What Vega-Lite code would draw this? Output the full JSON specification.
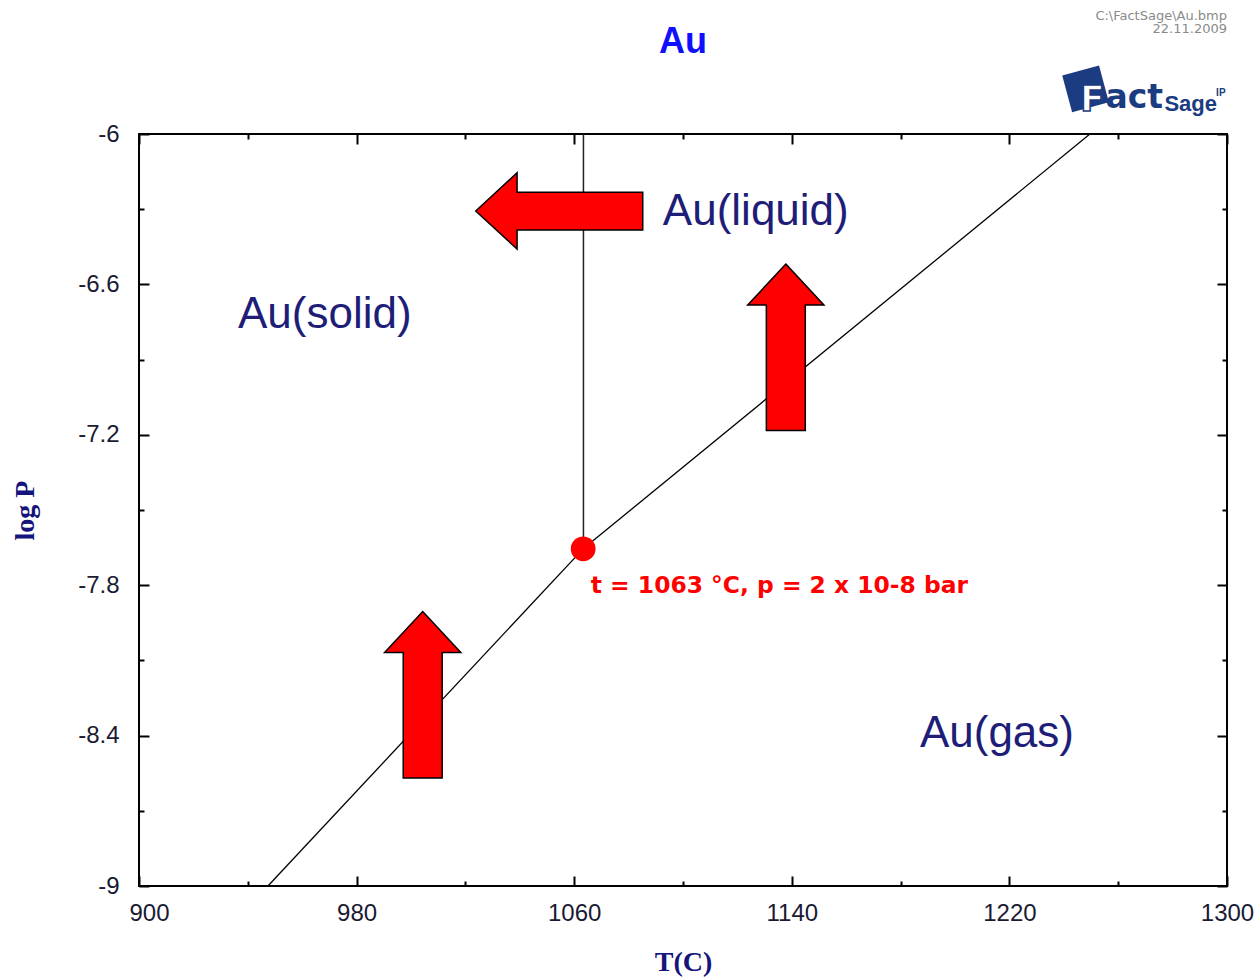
{
  "$schema": "https://vega.github.io/schema/vega-lite/v6.json",
  "width": 1088,
  "height": 752,
  "autosize": {"type": "none"},
  "padding": {"left": 139, "top": 134, "right": 33, "bottom": 94},
  "background": "#ffffff",
  "config": {
    "font": "Liberation Sans",
    "view": {"stroke": "#000000", "strokeWidth": 2}
  },
  "datasets": {
    "curve": [
      {"phase": "solid", "T": 947.4, "logP": -9.0},
      {"phase": "solid", "T": 1063.3, "logP": -7.655},
      {"phase": "liquid", "T": 1063.3, "logP": -7.655},
      {"phase": "liquid", "T": 1249.6, "logP": -6.0}
    ],
    "melt": [
      {"T": 1063.4, "logP": -7.655},
      {"T": 1063.4, "logP": -6.0}
    ],
    "arrows": [
      {"dir": "left", "T": 1054.5, "logP": -6.307},
      {"dir": "up", "T": 1137.8, "logP": -6.851},
      {"dir": "up", "T": 1004.3, "logP": -8.237}
    ],
    "triple": [
      {"T": 1063.3, "logP": -7.655}
    ],
    "phases": [
      {"text": "Au(liquid)", "T": 1092.6, "logP": -6.363},
      {"text": "Au(solid)", "T": 936.4, "logP": -6.774},
      {"text": "Au(gas)", "T": 1187.1, "logP": -8.445}
    ],
    "note": [
      {"text": "t = 1063 °C, p = 2 x 10-8 bar", "T": 1066.1, "logP": -7.831}
    ],
    "heading": [
      {"text": "Au", "T": 1100, "logP": -5.677}
    ],
    "fileinfo": [
      {"text": "C:\\FactSage\\Au.bmp", "T": 1300, "logP": -5.545},
      {"text": "22.11.2009", "T": 1300, "logP": -5.597}
    ],
    "logo": [
      {"part": "box", "text": "", "T": 1248.0, "logP": -5.820},
      {"part": "F", "text": "F", "T": 1246.0, "logP": -5.910},
      {"part": "act", "text": "act", "T": 1255.3, "logP": -5.898},
      {"part": "Sage", "text": "Sage", "T": 1277.0, "logP": -5.908},
      {"part": "tp", "text": "IP", "T": 1296.0, "logP": -5.850}
    ]
  },
  "encoding": {
    "x": {"field": "T", "type": "quantitative", "scale": {"domain": [900, 1300], "nice": false, "zero": false}, "axis": null},
    "y": {"field": "logP", "type": "quantitative", "scale": {"domain": [-9, -6], "nice": false, "zero": false}, "axis": null}
  },
  "layer": [
    {
      "data": {"name": "curve"},
      "mark": {"type": "line", "color": "#000000", "strokeWidth": 1.3},
      "encoding": {
        "detail": {"field": "phase"},
        "x": {
          "field": "T", "type": "quantitative",
          "scale": {"domain": [900, 1300], "nice": false, "zero": false},
          "axis": {
            "orient": "bottom",
            "values": [900, 940, 980, 1020, 1060, 1100, 1140, 1180, 1220, 1260, 1300],
            "domain": false,
            "grid": false,
            "tickColor": "#000000",
            "tickWidth": 2,
            "tickSize": {"condition": {"test": "(round(datum.value) - 900) % 80 == 0", "value": -10}, "value": -5},
            "labelExpr": "(round(datum.value) - 900) % 80 == 0 ? '' + round(datum.value) : ''",
            "labelPadding": 25,
            "labelOffset": {"condition": {"test": "round(datum.value) == 900", "value": 10}, "value": 0},
            "labelFont": "Liberation Sans",
            "labelFontSize": 24,
            "labelColor": "#1a1a33",
            "labelBaseline": "top",
            "labelFlush": false,
            "labelOverlap": false,
            "title": "T(C)",
            "titleFont": "Liberation Serif",
            "titleFontSize": 28,
            "titleFontWeight": "bold",
            "titleColor": "#14147a",
            "titleX": 544,
            "titleY": 84,
            "titleAlign": "center",
            "titleBaseline": "alphabetic"
          }
        },
        "y": {
          "field": "logP", "type": "quantitative",
          "scale": {"domain": [-9, -6], "nice": false, "zero": false},
          "axis": {
            "orient": "left",
            "values": [-9, -8.7, -8.4, -8.1, -7.8, -7.5, -7.2, -6.9, -6.6, -6.3, -6],
            "domain": false,
            "grid": false,
            "tickColor": "#000000",
            "tickWidth": 2,
            "tickSize": {"condition": {"test": "abs(round(datum.value * 10)) % 6 == 0", "value": -10}, "value": -5},
            "labelExpr": "abs(round(datum.value * 10)) % 6 == 0 ? '' + round(datum.value * 10) / 10 : ''",
            "labelPadding": 30,
            "labelFont": "Liberation Sans",
            "labelFontSize": 24,
            "labelColor": "#1a1a33",
            "labelOverlap": false,
            "labelFlush": false,
            "title": "log P",
            "titleFont": "Liberation Serif",
            "titleFontSize": 28,
            "titleFontWeight": "bold",
            "titleColor": "#14147a",
            "titleAngle": -90,
            "titleX": -106,
            "titleY": 376,
            "titleAlign": "center",
            "titleBaseline": "alphabetic"
          }
        }
      }
    },
    {
      "data": {"name": "melt"},
      "mark": {"type": "line", "color": "#222222", "strokeWidth": 1.5},
      "encoding": {
        "order": {"field": "logP"},
        "x": {
          "field": "T", "type": "quantitative",
          "scale": {"domain": [900, 1300], "nice": false, "zero": false},
          "axis": {
            "orient": "top",
            "values": [900, 940, 980, 1020, 1060, 1100, 1140, 1180, 1220, 1260, 1300],
            "domain": false,
            "grid": false,
            "labels": false,
            "title": null,
            "tickColor": "#000000",
            "tickWidth": 2,
            "tickSize": {"condition": {"test": "(round(datum.value) - 900) % 80 == 0", "value": -10}, "value": -5}
          }
        },
        "y": {
          "field": "logP", "type": "quantitative",
          "scale": {"domain": [-9, -6], "nice": false, "zero": false},
          "axis": {
            "orient": "right",
            "values": [-9, -8.7, -8.4, -8.1, -7.8, -7.5, -7.2, -6.9, -6.6, -6.3, -6],
            "domain": false,
            "grid": false,
            "labels": false,
            "title": null,
            "tickColor": "#000000",
            "tickWidth": 2,
            "tickSize": {"condition": {"test": "abs(round(datum.value * 10)) % 6 == 0", "value": -10}, "value": -5}
          }
        }
      }
    },
    {
      "data": {"name": "arrows"},
      "transform": [{"filter": "datum.dir == 'left'"}],
      "mark": {
        "type": "point",
        "shape": "M-1,0 L-0.505,-0.457 L-0.505,-0.223 L1,-0.223 L1,0.229 L-0.505,0.229 L-0.505,0.456 Z",
        "size": 27889,
        "filled": true,
        "fill": "#ff0000",
        "stroke": "#000000",
        "strokeWidth": 1.5,
        "opacity": 1,
        "fillOpacity": 1
      }
    },
    {
      "data": {"name": "arrows"},
      "transform": [{"filter": "datum.dir == 'up'"}],
      "mark": {
        "type": "point",
        "shape": "M0,-1 L0.458,-0.508 L0.234,-0.508 L0.234,1 L-0.234,1 L-0.234,-0.508 L-0.458,-0.508 Z",
        "size": 27700,
        "filled": true,
        "fill": "#ff0000",
        "stroke": "#000000",
        "strokeWidth": 1.5,
        "opacity": 1,
        "fillOpacity": 1
      }
    },
    {
      "data": {"name": "triple"},
      "mark": {"type": "point", "shape": "circle", "size": 615, "filled": true, "fill": "#ff0000", "opacity": 1, "strokeWidth": 0}
    },
    {
      "data": {"name": "phases"},
      "mark": {"type": "text", "align": "left", "baseline": "alphabetic", "font": "Liberation Sans", "fontSize": 44, "color": "#1e1e78"},
      "encoding": {"text": {"field": "text"}}
    },
    {
      "data": {"name": "note"},
      "mark": {"type": "text", "align": "left", "baseline": "alphabetic", "font": "DejaVu Sans", "fontSize": 23.4, "fontWeight": "bold", "color": "#ff0000"},
      "encoding": {"text": {"field": "text"}}
    },
    {
      "data": {"name": "heading"},
      "mark": {"type": "text", "align": "center", "baseline": "alphabetic", "font": "Liberation Sans", "fontSize": 36, "fontWeight": "bold", "color": "#1010ff"},
      "encoding": {"text": {"field": "text"}}
    },
    {
      "data": {"name": "fileinfo"},
      "mark": {"type": "text", "align": "right", "baseline": "alphabetic", "font": "DejaVu Sans", "fontSize": 13, "color": "#8a8a8a"},
      "encoding": {"text": {"field": "text"}}
    },
    {
      "data": {"name": "logo"},
      "transform": [{"filter": "datum.part == 'box'"}],
      "mark": {"type": "point", "shape": "square", "size": 1450, "angle": -15, "filled": true, "fill": "#1b3c80", "opacity": 1}
    },
    {
      "data": {"name": "logo"},
      "transform": [{"filter": "datum.part == 'F'"}],
      "mark": {"type": "text", "align": "left", "baseline": "alphabetic", "font": "DejaVu Sans", "fontSize": 36, "fontWeight": "bold", "fill": "#ffffff", "stroke": "#1b3c80", "strokeWidth": 1.5},
      "encoding": {"text": {"field": "text"}}
    },
    {
      "data": {"name": "logo"},
      "transform": [{"filter": "datum.part == 'act'"}],
      "mark": {"type": "text", "align": "left", "baseline": "alphabetic", "font": "DejaVu Sans", "fontSize": 33, "fontWeight": "bold", "color": "#1b3c80"},
      "encoding": {"text": {"field": "text"}}
    },
    {
      "data": {"name": "logo"},
      "transform": [{"filter": "datum.part == 'Sage'"}],
      "mark": {"type": "text", "align": "left", "baseline": "alphabetic", "font": "Liberation Sans", "fontSize": 22, "fontWeight": "bold", "color": "#1b3c80"},
      "encoding": {"text": {"field": "text"}}
    },
    {
      "data": {"name": "logo"},
      "transform": [{"filter": "datum.part == 'tp'"}],
      "mark": {"type": "text", "align": "left", "baseline": "alphabetic", "font": "Liberation Sans", "fontSize": 10, "fontWeight": "bold", "color": "#1b3c80"},
      "encoding": {"text": {"field": "text"}}
    }
  ],
  "resolve": {"axis": {"x": "independent", "y": "independent"}}
}
